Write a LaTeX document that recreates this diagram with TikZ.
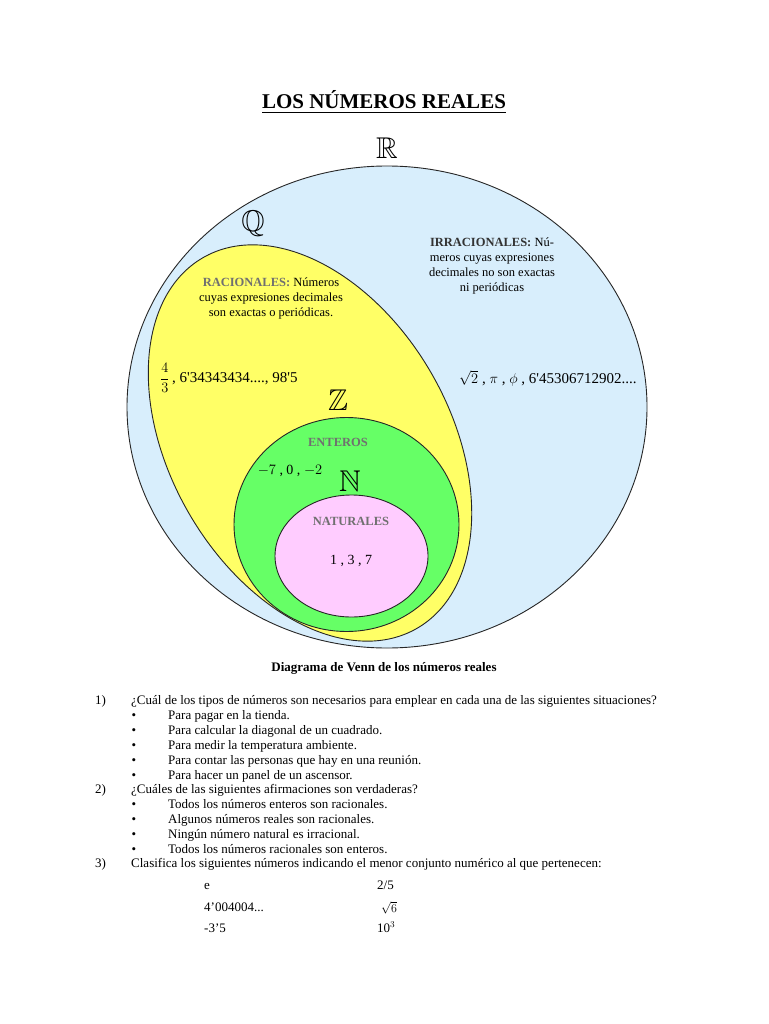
\documentclass[tikz,border=0pt]{standalone}
\usepackage{amssymb}
\usepackage{fontspec}
\setmainfont{Liberation Serif}
\definecolor{realblue}{HTML}{D8EEFC}
\definecolor{ratyellow}{HTML}{FFFF66}
\definecolor{intgreen}{HTML}{66FF66}
\definecolor{natpink}{HTML}{FFCCFF}
\definecolor{labgray}{HTML}{707070}
\definecolor{irrgray}{HTML}{333333}
\tikzset{
  setline/.style={draw=black!85, line width=0.9pt},
  setletter/.style={inner sep=0pt, font=\fontsize{30}{30}\selectfont},
  settext/.style={inner sep=0pt, align=center, font=\fontsize{12.5}{15}\selectfont},
  numtext/.style={inner sep=0pt, font=\fontsize{15}{17}\selectfont},
  listtext/.style={inner sep=0pt, anchor=base west, font=\fontsize{13}{15}\selectfont},
  bul/.style={inner sep=0pt, anchor=base, font=\fontsize{13}{15}\selectfont}
}
\begin{document}
\begin{tikzpicture}[x=1pt,y=-1pt]
\useasboundingbox[fill=white] (0,0) rectangle (768,1024);
% title
\node[inner sep=0pt, font=\fontsize{21}{21}\selectfont\bfseries] (title) at (384,102) {\underline{LOS NÚMEROS REALES}};
% sets
\fill[realblue] (387,407) ellipse [x radius=260, y radius=241];
\draw[setline] (387,407) ellipse [x radius=260, y radius=241];
\filldraw[setline, fill=ratyellow, rotate around={30:(310,443)}] (310,443) ellipse [x radius=140, y radius=214];
\filldraw[setline, fill=intgreen] (346.5,524.5) ellipse [x radius=112.5, y radius=107];
\filldraw[setline, fill=natpink] (351.5,556) ellipse [x radius=76.5, y radius=61];
% set letters
\node[setletter] (R) at (387,148) {$\mathbb{R}$};
\node[setletter] (Q) at (253,224) {$\mathbb{Q}$};
\node[setletter] (Z) at (338,400) {$\mathbb{Z}$};
\node[setletter] (N) at (350,481) {$\mathbb{N}$};
% set texts
\node[settext] (rac) at (271,298) {\textcolor{labgray}{\textbf{RACIONALES:}} Números\\cuyas expresiones decimales\\son exactas o periódicas.};
\node[settext] (irr) at (492,266) {\textcolor{irrgray}{\textbf{IRRACIONALES:}} Nú-\\meros cuyas expresiones\\decimales no son exactas\\ni periódicas};
\node[numtext, anchor=west] (racnum) at (160,378) {$\displaystyle\frac{4}{3}$\,, 6\textquotesingle 34343434...., 98\textquotesingle 5};
\node[numtext, anchor=west] (irrnum) at (459,378) {$\sqrt{2}$ , $\pi$ , $\phi$ , 6\textquotesingle 45306712902....};
\node[settext, text=labgray, font=\fontsize{12.5}{15}\selectfont\bfseries] (ent) at (338,442) {ENTEROS};
\node[numtext, font=\fontsize{14}{16}\selectfont] (entnum) at (290,471) {$-7$ , 0 , $-2$};
\node[settext, text=labgray, font=\fontsize{12.5}{15}\selectfont\bfseries] (nat) at (351,521) {NATURALES};
\node[numtext, font=\fontsize{14}{16}\selectfont] (natnum) at (351,561) {1 , 3 , 7};
% caption
\node[inner sep=0pt, font=\fontsize{13}{15}\selectfont\bfseries] (cap) at (384,668) {Diagrama de Venn de los números reales};
% list
\node[listtext] (n1) at (95,704) {1)};
\node[listtext] (q1) at (131,704) {¿Cuál de los tipos de números son necesarios para emplear en cada una de las siguientes situaciones?};
\node[bul] (b11) at (134,719) {\textbullet};
\node[listtext] (t11) at (168,719) {Para pagar en la tienda.};
\node[bul] (b12) at (134,734) {\textbullet};
\node[listtext] (t12) at (168,734) {Para calcular la diagonal de un cuadrado.};
\node[bul] (b13) at (134,749) {\textbullet};
\node[listtext] (t13) at (168,749) {Para medir la temperatura ambiente.};
\node[bul] (b14) at (134,764) {\textbullet};
\node[listtext] (t14) at (168,764) {Para contar las personas que hay en una reunión.};
\node[bul] (b15) at (134,779) {\textbullet};
\node[listtext] (t15) at (168,779) {Para hacer un panel de un ascensor.};
\node[listtext] (n2) at (95,793) {2)};
\node[listtext] (q2) at (131,793) {¿Cuáles de las siguientes afirmaciones son verdaderas?};
\node[bul] (b21) at (134,808) {\textbullet};
\node[listtext] (t21) at (168,808) {Todos los números enteros son racionales.};
\node[bul] (b22) at (134,823) {\textbullet};
\node[listtext] (t22) at (168,823) {Algunos números reales son racionales.};
\node[bul] (b23) at (134,838) {\textbullet};
\node[listtext] (t23) at (168,838) {Ningún número natural es irracional.};
\node[bul] (b24) at (134,853) {\textbullet};
\node[listtext] (t24) at (168,853) {Todos los números racionales son enteros.};
\node[listtext] (n3) at (95,867) {3)};
\node[listtext] (q3) at (131,867) {Clasifica los siguientes números indicando el menor conjunto numérico al que pertenecen:};
\node[listtext] (c1) at (204,889) {e};
\node[listtext] (c2) at (377,889) {2/5};
\node[listtext] (c3) at (204,911) {4’004004...};
\node[listtext] (c4) at (381,912) {$\sqrt{6}$};
\node[listtext] (c5) at (204,932) {-3’5};
\node[listtext] (c6) at (377,932) {10$^3$};
\end{tikzpicture}
\end{document}
